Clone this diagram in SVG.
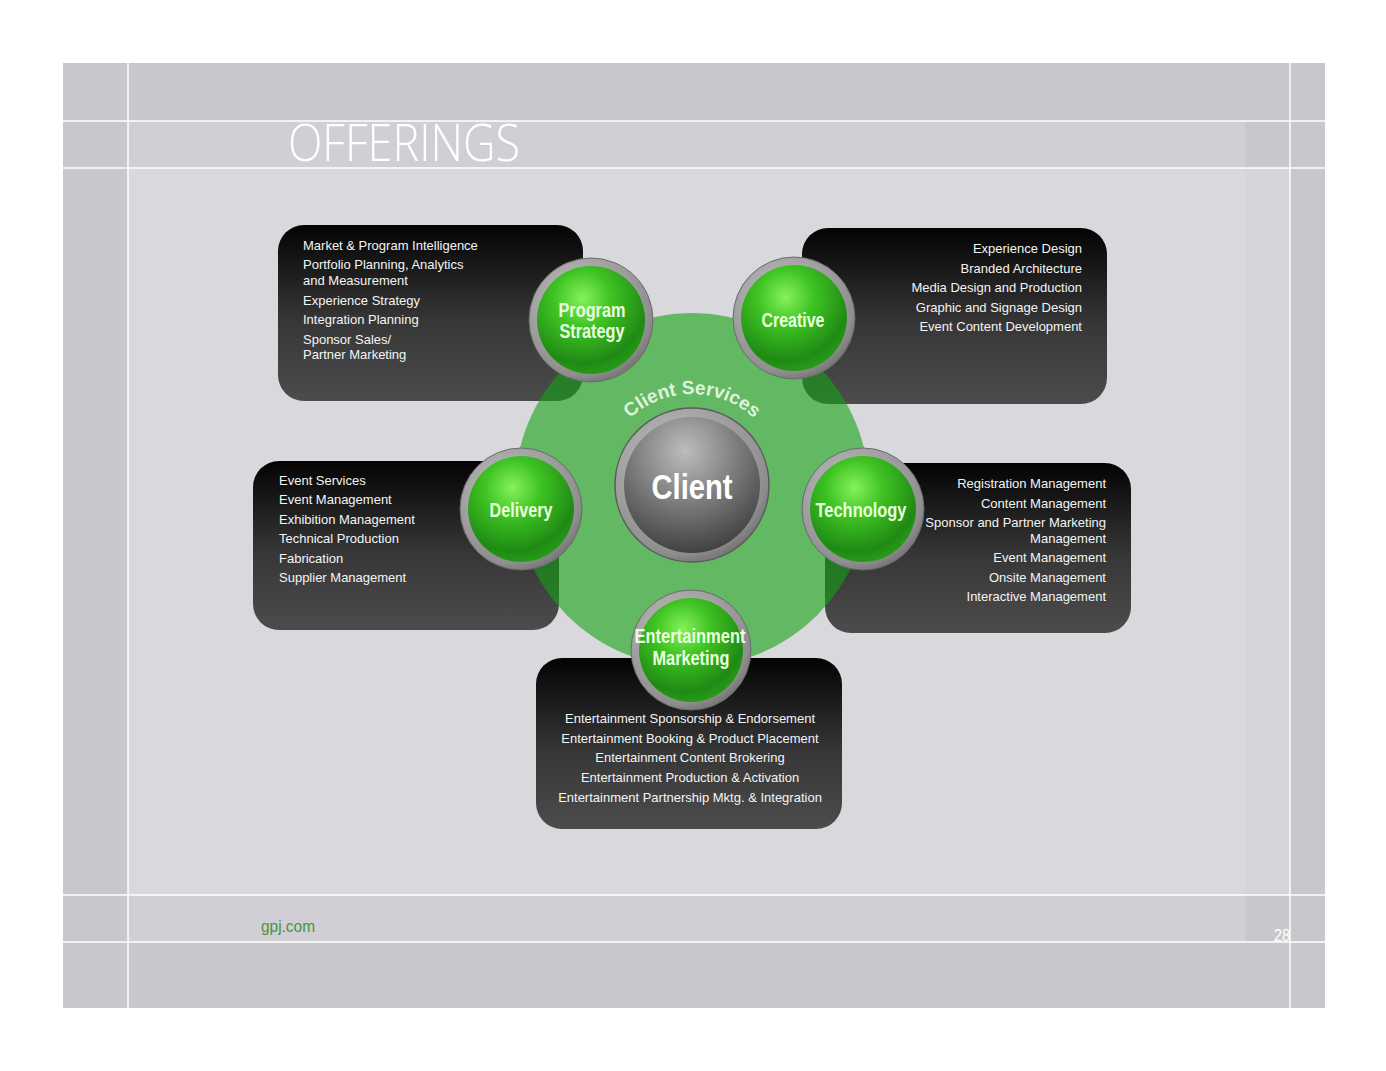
<svg xmlns="http://www.w3.org/2000/svg" width="1386" height="1071" viewBox="0 0 1386 1071">
<defs>
<linearGradient id="boxG" x1="0" y1="0" x2="0" y2="1">
<stop offset="0" stop-color="#030303"/>
<stop offset="0.55" stop-color="#373737"/>
<stop offset="1" stop-color="#4c4c4c"/>
</linearGradient>
<radialGradient id="greenG" cx="0.42" cy="0.3" r="0.75">
<stop offset="0" stop-color="#86f25a"/>
<stop offset="0.35" stop-color="#3fc423"/>
<stop offset="0.8" stop-color="#1f8a14"/>
<stop offset="1" stop-color="#2aa01a"/>
</radialGradient>
<radialGradient id="ringG" cx="0.4" cy="0.35" r="0.7">
<stop offset="0" stop-color="#c4c4c4"/>
<stop offset="0.85" stop-color="#8e8e8e"/>
<stop offset="1" stop-color="#6e6e6e"/>
</radialGradient>
<radialGradient id="clientG" cx="0.45" cy="0.25" r="0.8">
<stop offset="0" stop-color="#bdbdbd"/>
<stop offset="0.5" stop-color="#7a7a7a"/>
<stop offset="1" stop-color="#3a3a3a"/>
</radialGradient>
<path id="arcCS" d="M 601 485 A 91 91 0 0 1 783 485"/>
<style>
.box{fill:url(#boxG)}
.ring{fill:url(#ringG);stroke:#6a6a6a;stroke-width:1}
.ball{fill:url(#greenG)}
.item{font-family:"Liberation Sans",Arial,sans-serif;font-size:13px;fill:#f4f4f4}
.lbl{font-family:"Liberation Sans",Arial,sans-serif;font-weight:bold;font-size:21px;fill:#eaffdf;text-anchor:middle}
.r{text-anchor:end}
.c{text-anchor:middle}
.wl{stroke:#ffffff;stroke-width:1.5}
</style>
</defs>

<!-- page -->
<rect x="63" y="63" width="1262" height="945" fill="#c8c7cc"/>
<rect x="128" y="121" width="1117" height="47" fill="#d0cfd6"/>
<rect x="128" y="168" width="1117" height="727" fill="#d9d8dd"/>
<rect x="1245" y="168" width="45" height="727" fill="#d5d4d9"/>
<rect x="128" y="895" width="1117" height="47" fill="#d0cfd6"/>
<line class="wl" x1="128" y1="63" x2="128" y2="1008"/>
<line class="wl" x1="1290" y1="63" x2="1290" y2="1008"/>
<line class="wl" x1="63" y1="121" x2="1325" y2="121"/>
<line class="wl" x1="63" y1="168" x2="1325" y2="168"/>
<line class="wl" x1="63" y1="895" x2="1325" y2="895"/>
<line class="wl" x1="63" y1="942" x2="1325" y2="942"/>

<text x="288" y="161" font-family="Open Sans, Liberation Sans, sans-serif" font-weight="300" font-size="52" fill="#ffffff" textLength="232" lengthAdjust="spacingAndGlyphs">OFFERINGS</text>
<text x="261" y="932" font-family="Liberation Sans, Arial, sans-serif" font-size="16" fill="#4a9438" textLength="54" lengthAdjust="spacingAndGlyphs">gpj.com</text>
<text x="1274" y="941" font-family="Liberation Sans, Arial, sans-serif" font-size="16" fill="#ffffff" textLength="16" lengthAdjust="spacingAndGlyphs">28</text>

<!-- boxes -->
<g id="box-program">
<rect class="box" x="278" y="225" width="305" height="176" rx="26"/>
<text class="item" x="303" y="250">Market &amp; Program Intelligence</text>
<text class="item" x="303" y="269">Portfolio Planning, Analytics</text>
<text class="item" x="303" y="285">and Measurement</text>
<text class="item" x="303" y="305">Experience Strategy</text>
<text class="item" x="303" y="324">Integration Planning</text>
<text class="item" x="303" y="344">Sponsor Sales/</text>
<text class="item" x="303" y="359">Partner Marketing</text>
</g>
<g id="box-creative">
<rect class="box" x="802" y="228" width="305" height="176" rx="26"/>
<text class="item r" x="1082" y="253">Experience Design</text>
<text class="item r" x="1082" y="273">Branded Architecture</text>
<text class="item r" x="1082" y="292">Media Design and Production</text>
<text class="item r" x="1082" y="312">Graphic and Signage Design</text>
<text class="item r" x="1082" y="331">Event Content Development</text>
</g>
<g id="box-delivery">
<rect class="box" x="253" y="461" width="306" height="169" rx="26"/>
<text class="item" x="279" y="485">Event Services</text>
<text class="item" x="279" y="504">Event Management</text>
<text class="item" x="279" y="524">Exhibition Management</text>
<text class="item" x="279" y="543">Technical Production</text>
<text class="item" x="279" y="563">Fabrication</text>
<text class="item" x="279" y="582">Supplier Management</text>
</g>
<g id="box-technology">
<rect class="box" x="825" y="463" width="306" height="170" rx="26"/>
<text class="item r" x="1106" y="488">Registration Management</text>
<text class="item r" x="1106" y="508">Content Management</text>
<text class="item r" x="1106" y="527">Sponsor and Partner Marketing</text>
<text class="item r" x="1106" y="543">Management</text>
<text class="item r" x="1106" y="562">Event Management</text>
<text class="item r" x="1106" y="582">Onsite Management</text>
<text class="item r" x="1106" y="601">Interactive Management</text>
</g>
<g id="box-entertainment">
<rect class="box" x="536" y="658" width="306" height="171" rx="26"/>
<text class="item c" x="690" y="723">Entertainment Sponsorship &amp; Endorsement</text>
<text class="item c" x="690" y="743">Entertainment Booking &amp; Product Placement</text>
<text class="item c" x="690" y="762">Entertainment Content Brokering</text>
<text class="item c" x="690" y="782">Entertainment Production &amp; Activation</text>
<text class="item c" x="690" y="802">Entertainment Partnership Mktg. &amp; Integration</text>
</g>

<!-- client services ring -->
<g id="client-services">
<circle cx="692" cy="490" r="177" fill="#14a414" fill-opacity="0.6"/>
<text font-family="Liberation Sans, Arial, sans-serif" font-weight="bold" font-size="19" fill="#dff3dc"><textPath href="#arcCS" startOffset="50%" text-anchor="middle">Client Services</textPath></text>
</g>

<g id="connectors"></g>

<!-- nodes -->
<g id="node-client">
<circle cx="692" cy="485" r="77" fill="url(#ringG)" stroke="#5a5a5a" stroke-width="1.5"/>
<circle cx="692" cy="485" r="68" fill="url(#clientG)"/>
<text x="692" y="499" font-family="Liberation Sans, Arial, sans-serif" font-weight="bold" font-size="35" fill="#ffffff" text-anchor="middle" textLength="81" lengthAdjust="spacingAndGlyphs">Client</text>
</g>
<g id="node-program">
<circle class="ring" cx="591" cy="320" r="62"/>
<circle class="ball" cx="591" cy="320" r="54"/>
<text class="lbl" x="592" y="317" textLength="67" lengthAdjust="spacingAndGlyphs">Program</text>
<text class="lbl" x="592" y="338" textLength="65" lengthAdjust="spacingAndGlyphs">Strategy</text>
</g>
<g id="node-creative">
<circle class="ring" cx="794" cy="318" r="61"/>
<circle class="ball" cx="794" cy="318" r="53"/>
<text class="lbl" x="793" y="327" textLength="63" lengthAdjust="spacingAndGlyphs">Creative</text>
</g>
<g id="node-delivery">
<circle class="ring" cx="521" cy="509" r="61"/>
<circle class="ball" cx="521" cy="509" r="53"/>
<text class="lbl" x="521" y="517" textLength="63" lengthAdjust="spacingAndGlyphs">Delivery</text>
</g>
<g id="node-technology">
<circle class="ring" cx="863" cy="509" r="61"/>
<circle class="ball" cx="863" cy="509" r="53"/>
<text class="lbl" x="861" y="517" textLength="91" lengthAdjust="spacingAndGlyphs">Technology</text>
</g>
<g id="node-entertainment">
<circle class="ring" cx="691" cy="650" r="60"/>
<circle class="ball" cx="691" cy="650" r="52"/>
<text class="lbl" x="690" y="643" textLength="111" lengthAdjust="spacingAndGlyphs">Entertainment</text>
<text class="lbl" x="691" y="665" textLength="77" lengthAdjust="spacingAndGlyphs">Marketing</text>
</g>
</svg>
